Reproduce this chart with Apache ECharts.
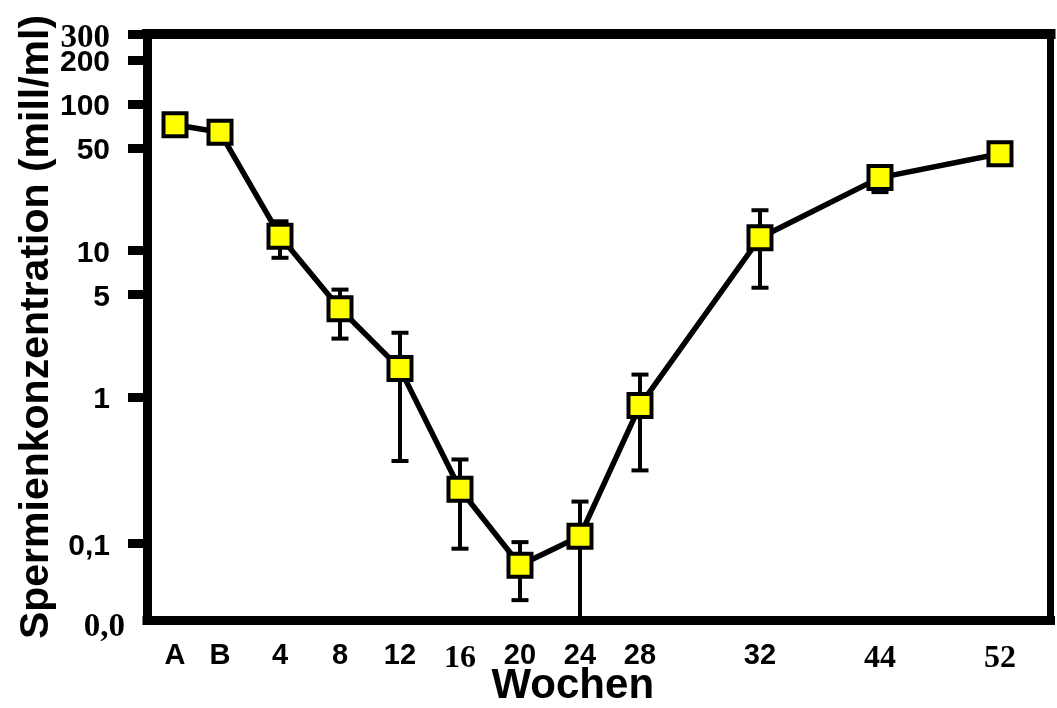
<!DOCTYPE html>
<html>
<head>
<meta charset="utf-8">
<script src="https://cdn.jsdelivr.net/npm/echarts@6/dist/echarts.min.js"></script>
<style>
  html, body { margin: 0; padding: 0; background: #fff; }
  #chart { width: 1057px; height: 708px; }
</style>
</head>
<body>
<div id="chart"></div>
<script>
// Sampling points: A and B are the two baseline samples, the rest are weeks.
const categories = ['A', 'B', '4', '8', '12', '16', '20', '24', '28', '32', '44', '52'];
// Where each sample sits on the compressed time axis (one unit = 4 weeks, week 4 = 0).
const axisPos = [-1.75, -1, 0, 1, 2, 3, 4, 5, 6, 8, 10, 12];
// Mean sperm concentration (mill/ml) and the ends of each error bar.
const meanConc = [72, 64, 12.5, 4.0, 1.56, 0.234, 0.071, 0.112, 0.875, 12.2, 31.4, 45.7];
const errHigh  = [null, null, 15.8, 5.4, 2.74, 0.374, 0.102, 0.193, 1.42, 18.8, 34, null];
const errLow   = [null, null, 8.9, 2.5, 0.365, 0.092, 0.041, 0, 0.315, 5.56, 25, null];

// Log axis range and its tick labels.
const yMin = 0.03;
const yMax = 300;
const yTickValues = [300, 200, 100, 50, 10, 5, 1, 0.1];
const yLabelValues = [300, 200, 100, 50, 10, 5, 1, 0.1, yMin];
const yTickLabels = ['300', '200', '100', '50', '10', '5', '1', '0,1', '0,0'];
// Labels that are set in a serif face.
const serifYLabels = ['300', '0,0'];
const serifXLabels = ['16', '44', '52'];
// Tick sitting right under the top one; drawn on its own overlay axis so both stay visible.
const crowdedTicks = [200];

const SANS = "'Liberation Sans', Arial, Helvetica, sans-serif";
const SERIF = "'Liberation Serif', 'Times New Roman', serif";

function pick(values, labels, v) {
  for (let i = 0; i < values.length; i++) {
    if (Math.abs(values[i] - v) < 1e-4 * Math.max(1e-3, Math.abs(values[i]))) return labels[i];
  }
  return '';
}
const notCrowded = v => crowdedTicks.indexOf(v) < 0;

const lineData = axisPos.map((x, i) => [x, meanConc[i]]);
const errData = [];
axisPos.forEach((x, i) => {
  if (errHigh[i] != null) errData.push([x, errLow[i], errHigh[i]]);
});

const yLabelRich = {
  sans: { fontFamily: SANS, fontWeight: 'bold', fontSize: 30, lineHeight: 14, color: '#000', padding: [6, 0, 0, 0] },
  serif: { fontFamily: SERIF, fontWeight: 'bold', fontSize: 33, lineHeight: 14, color: '#000', padding: [9, 0, 0, 0] },
  zero: { fontFamily: SERIF, fontWeight: 'bold', fontSize: 33, lineHeight: 14, color: '#000', padding: [14, -15, 0, 0] }
};
function yLabelFormatter(v) {
  const t = pick(yLabelValues, yTickLabels, v);
  if (t === '0,0') return '{zero|' + t + '}';
  return serifYLabels.indexOf(t) >= 0 ? '{serif|' + t + '}' : '{sans|' + t + '}';
}

const chart = echarts.init(document.getElementById('chart'), null, { renderer: 'canvas' });

chart.setOption({
  animation: false,
  backgroundColor: '#fff',
  grid: { left: 147, right: 6.5, top: 34, bottom: 88, outerBoundsMode: 'none', containLabel: false },
  xAxis: [{
    type: 'value',
    position: 'bottom',
    min: -2.2167,
    max: 12.842,
    splitLine: { show: false },
    axisLine: { show: true, onZero: false, lineStyle: { color: '#000', width: 9, cap: 'square' } },
    axisTick: { show: false },
    axisLabel: {
      customValues: axisPos,
      margin: 21,
      hideOverlap: false,
      showMinLabel: true,
      showMaxLabel: true,
      formatter: function (v) {
        const t = pick(axisPos, categories, v);
        return serifXLabels.indexOf(t) >= 0 ? '{serif|' + t + '}' : '{sans|' + t + '}';
      },
      rich: {
        sans: { fontFamily: SANS, fontWeight: 'bold', fontSize: 29, color: '#000' },
        serif: { fontFamily: SERIF, fontWeight: 'bold', fontSize: 32, color: '#000', padding: [2, 0, 0, 0] }
      }
    },
    name: 'Wochen',
    nameLocation: 'middle',
    nameGap: 45,
    nameMoveOverlap: false,
    nameTextStyle: { fontFamily: SANS, fontWeight: 'bold', fontSize: 42, color: '#000', padding: [0, 52, 0, 0] }
  }, {
    type: 'value',
    position: 'top',
    min: -2.2167,
    max: 12.842,
    splitLine: { show: false },
    axisLine: { show: true, onZero: false, lineStyle: { color: '#000', width: 10, cap: 'square' } },
    axisTick: { show: false },
    axisLabel: { show: false }
  }],
  yAxis: [{
    type: 'log',
    position: 'left',
    min: yMin,
    max: yMax,
    splitLine: { show: false },
    axisLine: { show: true, onZero: false, lineStyle: { color: '#000', width: 9, cap: 'square' } },
    axisTick: {
      show: true,
      customValues: yTickValues.filter(notCrowded),
      length: 19,
      lineStyle: { color: '#000', width: 9 }
    },
    axisLabel: {
      customValues: yLabelValues.filter(notCrowded),
      margin: 37,
      hideOverlap: false,
      showMinLabel: true,
      showMaxLabel: true,
      formatter: yLabelFormatter,
      rich: yLabelRich
    },
    name: 'Spermienkonzentration (mill/ml)',
    nameLocation: 'middle',
    nameRotate: 90,
    nameGap: 90,
    nameMoveOverlap: false,
    nameTextStyle: { fontFamily: SANS, fontWeight: 'bold', fontSize: 41, color: '#000' }
  }, {
    type: 'log',
    position: 'right',
    min: yMin,
    max: yMax,
    splitLine: { show: false },
    axisLine: { show: true, onZero: false, lineStyle: { color: '#000', width: 7, cap: 'square' } },
    axisTick: { show: false },
    axisLabel: { show: false }
  }, {
    // overlay on the left edge carrying the crowded tick
    type: 'log',
    position: 'left',
    offset: 0,
    min: yMin,
    max: yMax,
    splitLine: { show: false },
    axisLine: { show: false, onZero: false },
    axisTick: {
      show: true,
      customValues: crowdedTicks,
      length: 19,
      lineStyle: { color: '#000', width: 9 }
    },
    axisLabel: {
      customValues: crowdedTicks,
      margin: 37,
      hideOverlap: false,
      formatter: yLabelFormatter,
      rich: yLabelRich
    }
  }],
  series: [{
    // error bars with caps
    type: 'custom',
    xAxisIndex: 0,
    yAxisIndex: 0,
    encode: { x: 0, y: [1, 2] },
    z: 1,
    clip: false,
    data: errData,
    renderItem: function (params, api) {
      const x = api.value(0);
      const rawLo = api.value(1);
      const lo = Math.max(rawLo, yMin);
      const hi = api.value(2);
      const pHi = api.coord([x, hi]);
      const pLo = api.coord([x, lo]);
      const cap = 8.5;
      const st = { stroke: '#000', lineWidth: 4 };
      const children = [
        { type: 'line', shape: { x1: pHi[0], y1: pHi[1], x2: pLo[0], y2: pLo[1] }, style: st },
        { type: 'line', shape: { x1: pHi[0] - cap, y1: pHi[1], x2: pHi[0] + cap, y2: pHi[1] }, style: st }
      ];
      if (rawLo > yMin) {
        children.push({ type: 'line', shape: { x1: pLo[0] - cap, y1: pLo[1], x2: pLo[0] + cap, y2: pLo[1] }, style: st });
      }
      return { type: 'group', children: children };
    }
  }, {
    type: 'line',
    xAxisIndex: 0,
    yAxisIndex: 0,
    z: 3,
    data: lineData,
    symbol: 'rect',
    symbolSize: 23,
    lineStyle: { color: '#000', width: 5.5 },
    itemStyle: { color: '#ffff00', borderColor: '#000', borderWidth: 4 },
    emphasis: { disabled: true }
  }]
});
</script>
</body>
</html>
